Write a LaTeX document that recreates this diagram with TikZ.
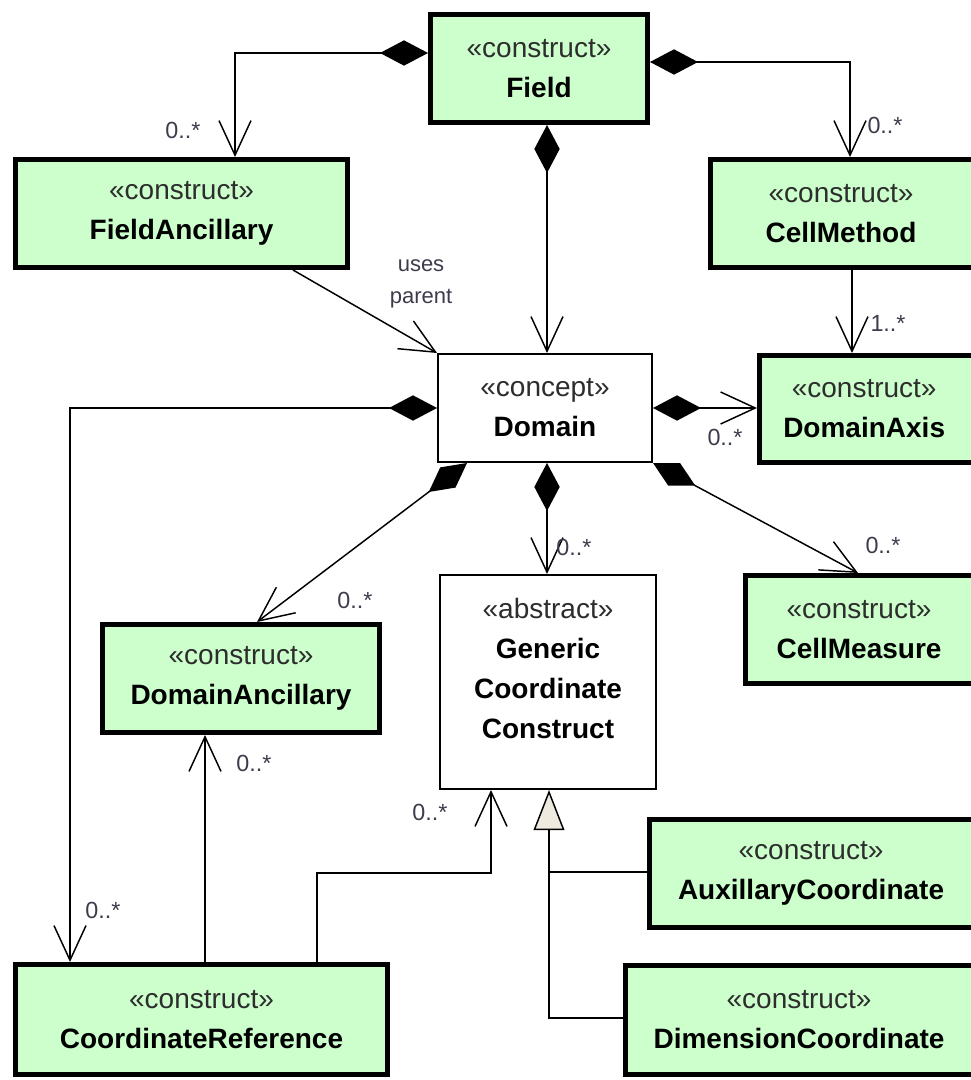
\documentclass[tikz,border=0pt]{standalone}
\usepackage{fontspec}
\setmainfont{Liberation Sans}
\usetikzlibrary{arrows.meta}
\definecolor{umlgreen}{RGB}{204,255,204}
\definecolor{genfill}{RGB}{238,234,224}
\definecolor{lblgray}{RGB}{60,60,75}
\definecolor{stgray}{RGB}{45,45,45}
\newcommand\stereo[1]{{\color{stgray}«#1»}}
\begin{document}
\begin{tikzpicture}[x=0.75pt,y=-0.75pt,
  box/.style={draw, line width=3.75pt, fill=umlgreen, align=center, inner sep=0pt,
              font=\fontsize{21}{30}\selectfont},
  tbox/.style={draw, line width=1.5pt, fill=white, align=center, inner sep=0pt,
              font=\fontsize{21}{30}\selectfont},
  boxtext/.style={align=center, inner sep=0pt, font=\fontsize{21}{30}\selectfont},
  conn/.style={line width=1.1pt},
  comp/.style={conn, {Diamond[length=36pt,width=19pt,fill=black]}-{Straight Barb[length=26pt,width=24pt]}},
  nav/.style={conn, -{Straight Barb[length=26pt,width=24pt]}},
  genl/.style={conn, -{Triangle[length=30pt,width=23pt,fill=genfill]}},
  mult/.style={font=\fontsize{17.5}{20}\selectfont, text=lblgray, inner sep=0pt},
  note/.style={font=\fontsize{16.5}{24}\selectfont, text=lblgray, inner sep=0pt, align=center}
]
\useasboundingbox (0,0) rectangle (970,1080);

% classes
\node[box, minimum width=162.75pt, minimum height=81pt] (field) at (539,68.5)
  {\stereo{construct}\\\textbf{Field}};
\node[box, minimum width=249pt, minimum height=81pt] (fanc) at (181.5,213.5)
  {\stereo{construct}\\\textbf{FieldAncillary}};
\node[box, minimum width=207.75pt, minimum height=81pt,
  label={[boxtext, xshift=-6pt]center:\stereo{construct}\\\textbf{CellMethod}}] (cmeth) at (849,213.5) {};
\node[tbox, minimum width=160.5pt, minimum height=81pt] (domain) at (545,408)
  {\stereo{concept}\\\textbf{Domain}};
\node[box, minimum width=171pt, minimum height=80.25pt,
  label={[boxtext, xshift=-7pt]center:\stereo{construct}\\\textbf{DomainAxis}}] (daxis) at (873.5,409) {};
\node[box, minimum width=181.5pt, minimum height=81pt,
  label={[boxtext, xshift=-5.6pt]center:\stereo{construct}\\\textbf{CellMeasure}}] (cmeas) at (866.5,629.5) {};
\node[box, minimum width=207.75pt, minimum height=81pt] (danc) at (241,678.5)
  {\stereo{construct}\\\textbf{DomainAncillary}};
\node[tbox, minimum width=162pt, minimum height=160.5pt] (gen) at (548,682) {};
\node[boxtext] (gentxt) at (548,668)
  {\stereo{abstract}\\\textbf{Generic}\\\textbf{Coordinate}\\\textbf{Construct}};
\node[box, minimum width=279pt, minimum height=82.5pt] (cref) at (201.5,1019.5)
  {\stereo{construct}\\\textbf{CoordinateReference}};
\node[box, minimum width=253.5pt, minimum height=81pt,
  label={[boxtext, xshift=-5.6pt]center:\stereo{construct}\\\textbf{AuxillaryCoordinate}}] (aux) at (818.5,873.5) {};
\node[box, minimum width=271.5pt, minimum height=81.75pt,
  label={[boxtext, xshift=-5.6pt]center:\stereo{construct}\\\textbf{DimensionCoordinate}}] (dim) at (806.5,1020) {};

% connectors
\draw[comp] (field.west |- 0,53) -| (fanc.north -| 235,0);
\draw[comp] (field.east |- 0,62) -| (cmeth.north -| 850,0);
\draw[comp] (field.south -| 547,0) -- (domain.north -| 547,0);
\draw[nav] (fanc.south -| 293,0) -- (domain.north west);
\draw[nav] (cmeth.south -| 852,0) -- (daxis.north -| 852,0);
\draw[comp] (domain.east |- 0,408) -- (daxis.west |- 0,408);
\draw[comp] (domain.west |- 0,408) -| (cref.north -| 70,0);
\draw[comp] (domain.south -| 467,0) -- (danc.north -| 257,0);
\draw[comp] (domain.south -| 547,0) -- (gen.north -| 547,0);
\draw[comp] (domain.south east) -- (cmeas.north -| 858,0);
\draw[nav] (cref.north -| 205,0) -- (danc.south -| 205,0);
\coordinate (bend) at (491,873);
\draw[nav] (cref.north -| 317,0) |- (bend) -- (gen.south -| bend);
\coordinate (genjoin) at (549,872);
\draw[genl] (dim.west |- 0,1018) -| (gen.south -| genjoin);
\draw[conn] (aux.west |- genjoin) -- (genjoin);

% multiplicities and labels
\node[mult] (m1) at (183,130) {0..*};
\node[mult] (m2) at (885,125) {0..*};
\node[note] (usesparent) at (421,284) {uses\\parent};
\node[mult] (m3) at (888,323) {1..*};
\node[mult] (m4) at (725,437) {0..*};
\node[mult] (m5) at (574,547) {0..*};
\node[mult] (m6) at (883,545) {0..*};
\node[mult] (m7) at (355,600) {0..*};
\node[mult] (m8) at (103,910) {0..*};
\node[mult] (m9) at (254,763) {0..*};
\node[mult] (m10) at (430,812) {0..*};
\end{tikzpicture}
\end{document}
